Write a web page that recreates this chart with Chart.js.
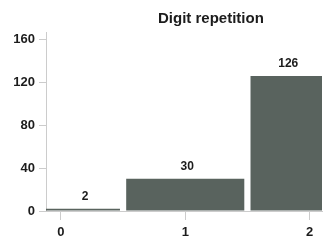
<!DOCTYPE html>
<html>
  <head>
    <meta charset="utf-8">
    <style type="text/css">
      body { margin: 0; background: #ffffff; }
      .chart-container { width: 324px; height: 242px; }
    </style>
  </head>
  <body>
    <script src="https://cdn.jsdelivr.net/npm/chart.js@4.4.1/dist/chart.umd.min.js"></script>

    <div class="chart-container">
      <canvas id="myChart" width="324" height="242"></canvas>
    </div>

    <script>
      /* datas */
      const chartTitle = 'Digit repetition';
      const digits = [0, 1, 2];
      const counts = [2, 30, 126];
      const yTicks = [0, 40, 80, 120, 160];

      const barColor = '#59635e';
      const axisColor = '#cccccc';
      const textColor = '#1c1c1c';
      const fontFamily = "'Liberation Sans', Arial, sans-serif";

      // title is drawn off-centre, like the original figure
      const titlePlugin = {
        id: 'titlePlugin',
        afterDraw(chart) {
          const ctx = chart.ctx;
          ctx.save();
          ctx.font = 'bold 15px ' + fontFamily;
          ctx.fillStyle = textColor;
          ctx.textAlign = 'center';
          ctx.textBaseline = 'middle';
          ctx.fillText(chartTitle, chart.width * 0.651, 18.5);
          ctx.restore();
        }
      };

      // value above each bar, centred on the visible part of it
      const valueLabels = {
        id: 'valueLabels',
        afterDatasetsDraw(chart) {
          const ctx = chart.ctx;
          const area = chart.chartArea;
          const meta = chart.getDatasetMeta(0);
          ctx.save();
          ctx.font = 'bold 12px ' + fontFamily;
          ctx.fillStyle = textColor;
          ctx.textAlign = 'center';
          ctx.textBaseline = 'middle';
          meta.data.forEach((bar, i) => {
            const left = Math.max(bar.x - bar.width / 2, area.left);
            const right = Math.min(bar.x + bar.width / 2, area.right);
            ctx.fillText(String(counts[i]), (left + right) / 2 + 2, bar.y - 12);
          });
          ctx.restore();
        }
      };

      const myChart = new Chart('myChart', {
        type: 'bar',
        data: {
          datasets: [{
            label: chartTitle,
            data: digits.map((d, i) => ({ x: d, y: counts[i] })),
            backgroundColor: barColor,
            borderWidth: 0,
            categoryPercentage: 1,
            barPercentage: 0.95,
            clip: 0
          }]
        },
        options: {
          responsive: false,
          animation: false,
          layout: { padding: { top: 32, right: 2, left: 0, bottom: 0 } },
          plugins: {
            legend: { display: false },
            tooltip: { enabled: false },
            title: { display: false }
          },
          scales: {
            x: {
              type: 'linear',
              offset: false,
              min: -0.12,
              max: 2.1,
              afterBuildTicks: (axis) => { axis.ticks = digits.map(v => ({ value: v })); },
              afterFit: (axis) => { axis.height = 31; },
              grid: { offset: false, drawOnChartArea: false, color: axisColor, tickLength: 9 },
              border: { color: axisColor },
              ticks: {
                padding: 5,
                color: textColor,
                font: { family: fontFamily, size: 13, weight: 'bold' }
              }
            },
            y: {
              min: 0,
              max: 167,
              afterBuildTicks: (axis) => { axis.ticks = yTicks.map(v => ({ value: v })); },
              afterFit: (axis) => { axis.width = 46; },
              grid: { drawOnChartArea: false, color: axisColor, tickLength: 7 },
              border: { color: axisColor },
              ticks: {
                padding: 4,
                color: textColor,
                font: { family: fontFamily, size: 13, weight: 'bold' }
              }
            }
          }
        },
        plugins: [titlePlugin, valueLabels]
      });
    </script>
  </body>
</html>
